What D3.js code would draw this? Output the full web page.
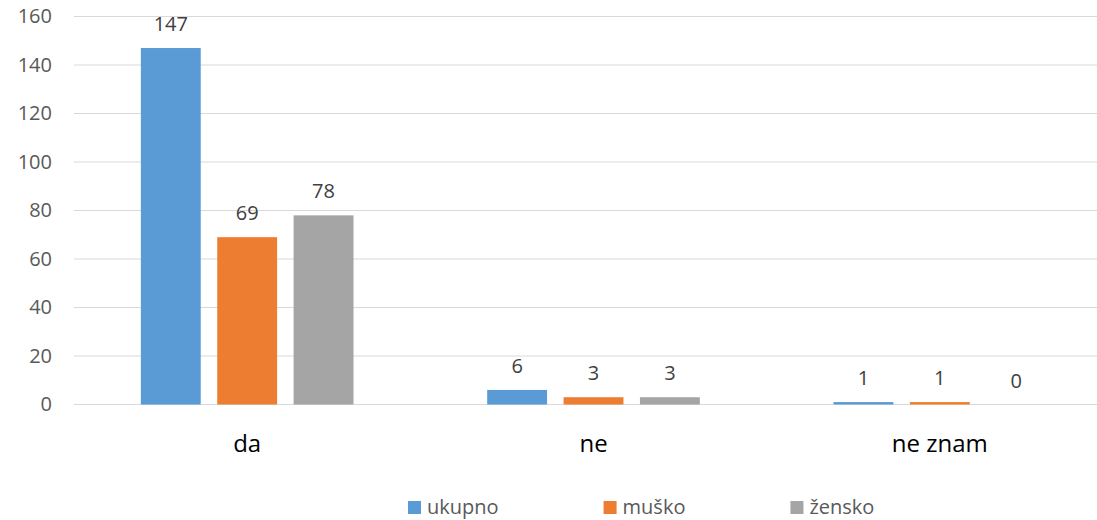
<!DOCTYPE html>
<html>
<head>
<meta charset="utf-8">
<script src="https://cdn.jsdelivr.net/npm/d3@7"></script>
<style>
  html, body { margin: 0; padding: 0; background: #fff; }
  svg { display: block; font-family: "Open Sans", "Noto Sans", sans-serif; }
</style>
</head>
<body>
<svg id="chart" width="1097" height="520"></svg>
<script>
// Answers and respondent groups
const categories = ["da", "ne", "ne znam"];
const seriesNames = ["ukupno", "muško", "žensko"];
const ukupno = [147, 6, 1];
const musko = [69, 3, 1];
const zensko = [78, 3, 0];
const yTicks = [0, 20, 40, 60, 80, 100, 120, 140, 160];

const seriesValues = [ukupno, musko, zensko];
const colors = ["#5B9BD5", "#ED7D31", "#A5A5A5"];

const rows = [];
categories.forEach((c, i) => {
  seriesNames.forEach((s, j) => rows.push({ category: c, series: s, value: seriesValues[j][i] }));
});

const svg = d3.select("#chart");

const plot = { left: 74, right: 1113, top: 16.5, bottom: 404.5 };

const x0 = d3.scaleBand()
  .domain(categories)
  .range([plot.left, plot.right])
  .paddingInner(0.386)
  .paddingOuter(0.193);

const x1 = d3.scaleBand()
  .domain(seriesNames)
  .range([0, x0.bandwidth()])
  .paddingInner(0.216);

const y = d3.scaleLinear().domain([0, 160]).range([plot.bottom, plot.top]);

const color = d3.scaleOrdinal().domain(seriesNames).range(colors);

// Horizontal gridlines
svg.append("g")
  .selectAll("line")
  .data(yTicks)
  .join("line")
  .attr("x1", plot.left)
  .attr("x2", plot.right)
  .attr("y1", d => y(d))
  .attr("y2", d => y(d))
  .attr("stroke", "#D9D9D9")
  .attr("stroke-width", 1.2);

// Value axis labels
const yAxis = d3.axisLeft(y).tickValues(yTicks).tickSize(0).tickPadding(22);
const yg = svg.append("g").attr("transform", `translate(${plot.left},0)`).call(yAxis);
yg.select(".domain").remove();
yg.selectAll("text")
  .attr("fill", "#595959")
  .style("font-size", "20px")
  .style("font-family", "'Open Sans', sans-serif");

// Bars
svg.append("g")
  .selectAll("rect")
  .data(rows)
  .join("rect")
  .attr("x", d => x0(d.category) + x1(d.series))
  .attr("width", x1.bandwidth())
  .attr("y", d => y(d.value))
  .attr("height", d => y(0) - y(d.value))
  .attr("fill", d => color(d.series));

// Value labels above bars
svg.append("g")
  .selectAll("text")
  .data(rows)
  .join("text")
  .attr("x", d => x0(d.category) + x1(d.series) + x1.bandwidth() / 2)
  .attr("y", d => y(d.value) - 17)
  .attr("text-anchor", "middle")
  .attr("fill", "#404040")
  .style("font-size", "20px")
  .text(d => d.value);

// Category axis labels
const xAxis = d3.axisBottom(x0).tickSize(0).tickPadding(0);
const xg = svg.append("g").attr("transform", `translate(0,${plot.bottom})`).call(xAxis);
xg.select(".domain").remove();
xg.selectAll("text")
  .attr("dy", null)
  .attr("y", 47)
  .attr("fill", "#000")
  .style("font-size", "24px")
  .style("font-family", "'Open Sans', sans-serif");

// Legend
const legend = svg.append("g").attr("transform", "translate(408,0)");
let cursor = 0;
seriesNames.forEach((name, i) => {
  const item = legend.append("g").attr("transform", `translate(${cursor},0)`);
  item.append("rect")
    .attr("x", 0).attr("y", 501)
    .attr("width", 13).attr("height", 13)
    .attr("fill", color(name));
  const t = item.append("text")
    .attr("x", 19).attr("y", 514)
    .attr("fill", "#595959")
    .style("font-size", "20px")
    .text(name);
  cursor += 19 + t.node().getComputedTextLength() + 105;
});
</script>
</body>
</html>
